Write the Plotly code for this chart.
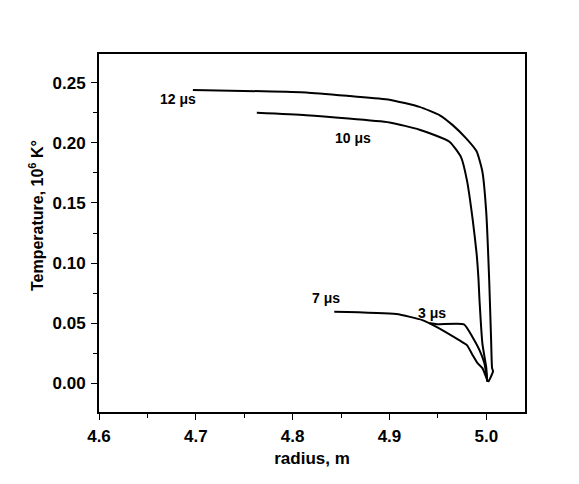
import plotly.graph_objects as go

# radius (m) and temperature (10^6 K)
r_12 = [4.697, 4.769, 4.814, 4.859, 4.900, 4.931, 4.952, 4.965, 4.979, 4.990, 4.996, 5.000, 5.003, 5.005, 5.006, 5.007, 5.004, 5.002]
t_12 = [0.244, 0.243, 0.242, 0.239, 0.236, 0.230, 0.223, 0.215, 0.204, 0.193, 0.176, 0.142, 0.086, 0.036, 0.0125, 0.010, 0.004, 0.001]

r_10 = [4.763, 4.814, 4.900, 4.931, 4.962, 4.974, 4.980, 4.986, 4.990, 4.992, 4.993, 4.996, 5.000, 5.001]
t_10 = [0.225, 0.223, 0.217, 0.211, 0.201, 0.188, 0.169, 0.136, 0.108, 0.086, 0.069, 0.033, 0.013, 0.001]

r_7 = [4.843, 4.907, 4.934, 4.949, 4.972, 4.980, 4.986, 4.991, 4.996, 5.001]
t_7 = [0.0594, 0.0575, 0.0525, 0.0467, 0.0358, 0.0317, 0.0233, 0.0167, 0.0125, 0.0025]

r_3 = [4.941, 4.949, 4.977, 4.986, 4.993, 4.998, 5.001]
t_3 = [0.0500, 0.0490, 0.0490, 0.0380, 0.0275, 0.0167, 0.0025]

labels = ["12 μs", "10 μs", "7 μs", "3 μs"]
label_x = [4.682, 4.862, 4.834, 4.944]
label_y = [0.2367, 0.204, 0.0708, 0.058]

x_ticks = [4.6, 4.7, 4.8, 4.9, 5.0]
x_ticktext = ["4.6", "4.7", "4.8", "4.9", "5.0"]
y_ticks = [0.0, 0.05, 0.10, 0.15, 0.20, 0.25]
y_ticktext = ["0.00", "0.05", "0.10", "0.15", "0.20", "0.25"]

FONT = "Liberation Sans, Arial, sans-serif"

fig = go.Figure()
for rx, ty in [(r_12, t_12), (r_10, t_10), (r_7, t_7), (r_3, t_3)]:
    fig.add_trace(go.Scatter(x=rx, y=ty, mode="lines",
                             line=dict(color="black", width=2, shape="spline", smoothing=0.5),
                             showlegend=False, hoverinfo="skip"))

for txt, lx, ly in zip(labels, label_x, label_y):
    fig.add_annotation(x=lx, y=ly, text="<b>" + txt + "</b>", showarrow=False,
                       font=dict(family=FONT, size=14, color="black"))

fig.add_annotation(xref="paper", yref="paper", x=-0.148, y=0.55, xanchor="center", yanchor="middle",
                   text="<b>Temperature, 10<sup>6</sup> K°</b>", textangle=-90, showarrow=False,
                   font=dict(family=FONT, size=16, color="black"))

fig.update_layout(
    width=571, height=476,
    margin=dict(l=91, r=54, t=46, b=72),
    paper_bgcolor="white", plot_bgcolor="white",
    font=dict(family=FONT, size=17, color="black"),
    xaxis=dict(range=[4.6, 5.04], tickvals=x_ticks, ticktext=["<b>%s</b>" % t for t in x_ticktext],
               showline=True, linecolor="black", linewidth=2, mirror=True,
               ticks="outside", ticklen=6, tickwidth=1, tickcolor="black",
               ticklabelstandoff=2,
               minor=dict(ticks="outside", ticklen=4, dtick=0.05, tick0=4.6, tickcolor="black"),
               showgrid=False, zeroline=False,
               title=dict(text="<b>radius, m</b>", font=dict(size=17), standoff=7)),
    yaxis=dict(range=[-0.024, 0.274], tickvals=y_ticks, ticktext=["<b>%s</b>" % t for t in y_ticktext],
               showline=True, linecolor="black", linewidth=2, mirror=True,
               ticks="outside", ticklen=6, tickwidth=1, tickcolor="black",
               ticklabelstandoff=2,
               minor=dict(ticks="outside", ticklen=4, dtick=0.025, tick0=0, tickcolor="black"),
               showgrid=False, zeroline=False),
)

fig.write_html("out.html")
